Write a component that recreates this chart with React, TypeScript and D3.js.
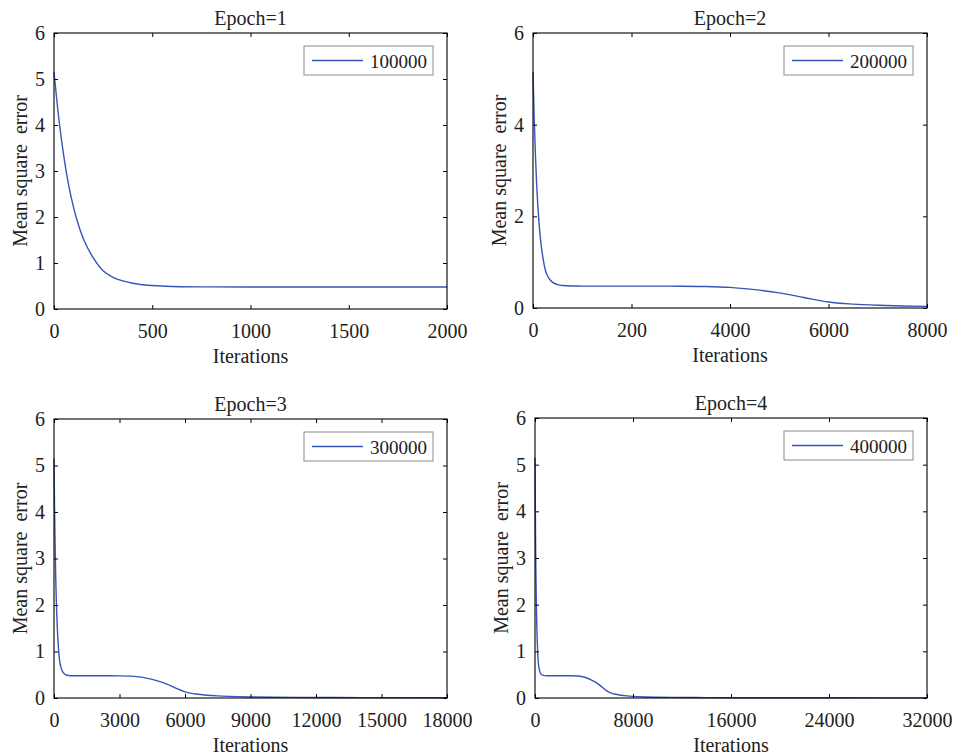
import * as d3 from "d3";
import { useEffect, useRef } from "react";

// shared training curve (iteration, mean square error)
const iterations = [
  0, 25, 50, 75, 100, 125, 150, 200, 250, 300, 350, 400, 500, 600, 800, 1000,
  1500, 2000, 2500, 3000, 3500, 4000, 4500, 5000, 5500, 6000, 6500, 7000, 7500,
  8000, 9000, 10000, 12000, 14000, 18000, 24000, 32000,
];
const mse = [
  5.15, 4.12, 3.32, 2.68, 2.2, 1.82, 1.52, 1.11, 0.83, 0.69, 0.61, 0.56, 0.51,
  0.49, 0.48, 0.478, 0.477, 0.477, 0.477, 0.476, 0.47, 0.45, 0.4, 0.33, 0.23,
  0.13, 0.085, 0.06, 0.045, 0.035, 0.022, 0.016, 0.011, 0.008, 0.005, 0.004,
  0.003,
];

const titles = ["Epoch=1", "Epoch=2", "Epoch=3", "Epoch=4"];
const legendLabels = ["100000", "200000", "300000", "400000"];
const xMax = [2000, 8000, 18000, 32000];
const xTicks = [
  [0, 500, 1000, 1500, 2000],
  [0, 2000, 4000, 6000, 8000],
  [0, 3000, 6000, 9000, 12000, 15000, 18000],
  [0, 8000, 16000, 24000, 32000],
];
const xTickLabels = [
  ["0", "500", "1000", "1500", "2000"],
  ["0", "200", "4000", "6000", "8000"],
  ["0", "3000", "6000", "9000", "12000", "15000", "18000"],
  ["0", "8000", "16000", "24000", "32000"],
];
const yTicks = [
  [0, 1, 2, 3, 4, 5, 6],
  [0, 2, 4, 6],
  [0, 1, 2, 3, 4, 5, 6],
  [0, 1, 2, 3, 4, 5, 6],
];

// axes boxes in pixels
const boxes = [
  { left: 54, right: 447, top: 33, bottom: 309 },
  { left: 533, right: 927, top: 33, bottom: 308 },
  { left: 54, right: 447, top: 419, bottom: 698 },
  { left: 535, right: 927, top: 418, bottom: 698 },
];

const FONT = "'Liberation Serif', 'Times New Roman', serif";
const LINE = "#3556b8";

const App = () => {
  const svgRef = useRef<SVGSVGElement>(null);

  useEffect(() => {
    const svg = d3.select(svgRef.current);
    svg.selectAll("*").remove();

    const points = iterations.map((it, i) => ({ it, v: mse[i] }));

    boxes.forEach((b, p) => {
      const w = b.right - b.left;
      const h = b.bottom - b.top;
      const g = svg
        .append("g")
        .attr("transform", `translate(${b.left},${b.top})`);

      const x = d3.scaleLinear().domain([0, xMax[p]]).range([0, w]);
      const y = d3.scaleLinear().domain([0, 6]).range([h, 0]);

      // line
      const line = d3
        .line<{ it: number; v: number }>()
        .x((d) => x(d.it))
        .y((d) => y(d.v))
        .curve(d3.curveMonotoneX);
      g.append("path")
        .datum(points.filter((d) => d.it <= xMax[p]))
        .attr("d", line)
        .attr("fill", "none")
        .attr("stroke", LINE)
        .attr("stroke-width", 1.4);

      // axes (ticks pointing inward on all four sides)
      const bottom = g
        .append("g")
        .attr("transform", `translate(0,${h})`)
        .call(
          d3
            .axisBottom(x)
            .tickValues(xTicks[p])
            .tickFormat((_d, i) => xTickLabels[p][i])
            .tickSize(-4)
            .tickSizeOuter(0)
            .tickPadding(15)
        );
      const left = g.append("g").call(
        d3
          .axisLeft(y)
          .tickValues(yTicks[p])
          .tickFormat(d3.format("d"))
          .tickSize(-4)
          .tickSizeOuter(0)
          .tickPadding(9)
      );
      const top = g.append("g").call(
        d3.axisTop(x).tickValues(xTicks[p]).tickFormat(() => "").tickSize(-4).tickSizeOuter(0)
      );
      const right = g
        .append("g")
        .attr("transform", `translate(${w},0)`)
        .call(
          d3.axisRight(y).tickValues(yTicks[p]).tickFormat(() => "").tickSize(-4).tickSizeOuter(0)
        );
      [bottom, left, top, right].forEach((a) => {
        a.select(".domain").remove();
        a.selectAll("line").attr("stroke", "#000");
        a.selectAll("text")
          .attr("font-family", FONT)
          .attr("font-size", 20)
          .attr("fill", "#222");
      });

      g.append("rect")
        .attr("width", w)
        .attr("height", h)
        .attr("fill", "none")
        .attr("stroke", "#000")
        .attr("stroke-width", 1.1);

      // title
      g.append("text")
        .attr("x", w / 2)
        .attr("y", -8)
        .attr("text-anchor", "middle")
        .attr("font-family", FONT)
        .attr("font-size", 20)
        .attr("fill", "#222")
        .text(titles[p]);

      // x label
      g.append("text")
        .attr("x", w / 2)
        .attr("y", h + 54)
        .attr("text-anchor", "middle")
        .attr("font-family", FONT)
        .attr("font-size", 20)
        .attr("fill", "#222")
        .text("Iterations");

      // y label
      g.append("text")
        .attr("transform", `translate(${-27},${h / 2}) rotate(-90)`)
        .attr("text-anchor", "middle")
        .attr("font-family", FONT)
        .attr("font-size", 20)
        .attr("fill", "#222")
        .style("white-space", "pre")
        .text("Mean square  error");

      // legend
      const lw = 129,
        lh = 29;
      const lg = g
        .append("g")
        .attr("transform", `translate(${w - 14 - lw},13)`);
      lg.append("rect")
        .attr("width", lw)
        .attr("height", lh)
        .attr("fill", "#fff")
        .attr("stroke", "#8a8a8a")
        .attr("stroke-width", 1);
      lg.append("line")
        .attr("x1", 8)
        .attr("x2", 59)
        .attr("y1", lh / 2)
        .attr("y2", lh / 2)
        .attr("stroke", LINE)
        .attr("stroke-width", 1.4);
      lg.append("text")
        .attr("x", 66)
        .attr("y", lh / 2 + 7)
        .attr("font-family", FONT)
        .attr("font-size", 19)
        .attr("fill", "#222")
        .text(legendLabels[p]);
    });
  }, []);

  return (
    <svg
      ref={svgRef}
      width={955}
      height={754}
      style={{ position: "absolute", left: 0, top: 0, background: "#fff" }}
    />
  );
};

export default App;
